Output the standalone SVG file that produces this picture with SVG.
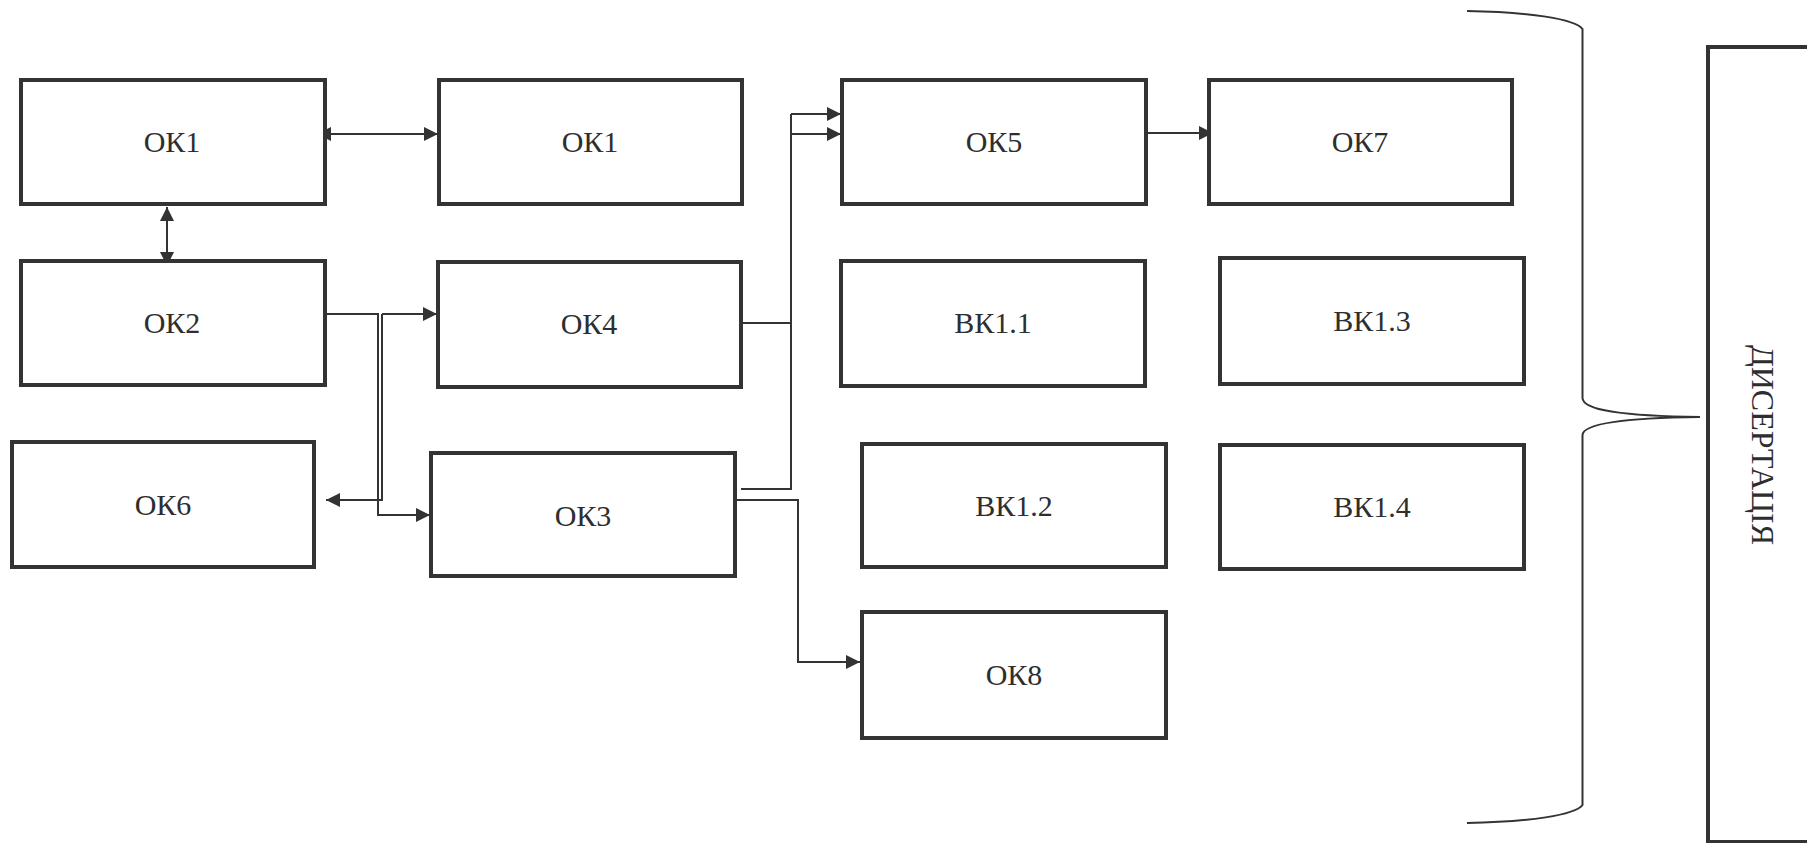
<svg xmlns="http://www.w3.org/2000/svg" width="1807" height="843" viewBox="0 0 1807 843">
<style>
.box{fill:#fff;stroke:#333;stroke-width:4}
.lbl{font-family:'Liberation Serif','DejaVu Serif',serif;font-size:30px;fill:#2e2e2e;text-anchor:middle}
.ln{fill:none;stroke:#333;stroke-width:2}
.arr{marker-end:url(#ah)}
.dbl{marker-start:url(#ah);marker-end:url(#ah)}
</style>
<defs>
<marker id="ah" markerUnits="userSpaceOnUse" markerWidth="14" markerHeight="14" refX="14" refY="7" orient="auto-start-reverse" viewBox="0 0 14 14">
<path d="M0,0 L14,7 L0,14 z" fill="#333"/>
</marker>
</defs>
<rect width="1807" height="843" fill="#fff"/>
<g id="connectors">
<path class="ln dbl" d="M317,134 L438,134"/>
<path class="ln dbl" d="M167,207 L167,266"/>
<path class="ln arr" d="M325,314 L378,314 L378,515 L430,515"/>
<path class="ln arr" d="M382,314 L437,314"/>
<path class="ln arr" d="M382,314 L382,500 L326,500"/>
<path class="ln" d="M741,323 L791,323"/>
<path class="ln" d="M741,489 L791,489 L791,114"/>
<path class="ln arr" d="M791,114 L841,114"/>
<path class="ln arr" d="M791,134 L841,134"/>
<path class="ln arr" d="M735,500 L798,500 L798,662 L860,662"/>
<path class="ln arr" d="M1146,133 L1213,133"/>
</g>
<g font-family="'Liberation Serif','DejaVu Serif',serif">
<g id="ok1a"><rect class="box" x="21" y="80" width="304" height="124"/><text class="lbl" x="172" y="152">ОК1</text></g>
<g id="ok1b"><rect class="box" x="439" y="80" width="303" height="124"/><text class="lbl" x="590" y="152">ОК1</text></g>
<g id="ok2"><rect class="box" x="21" y="261" width="304" height="124"/><text class="lbl" x="172" y="333">ОК2</text></g>
<g id="ok4"><rect class="box" x="438" y="262" width="303" height="125"/><text class="lbl" x="589" y="334">ОК4</text></g>
<g id="ok6"><rect class="box" x="12" y="442" width="302" height="125"/><text class="lbl" x="163" y="515">ОК6</text></g>
<g id="ok3"><rect class="box" x="431" y="453" width="304" height="123"/><text class="lbl" x="583" y="526">ОК3</text></g>
<g id="ok5"><rect class="box" x="842" y="80" width="304" height="124"/><text class="lbl" x="994" y="152">ОК5</text></g>
<g id="ok7"><rect class="box" x="1209" y="80" width="303" height="124"/><text class="lbl" x="1360" y="152">ОК7</text></g>
<g id="bk11"><rect class="box" x="841" y="261" width="304" height="125"/><text class="lbl" x="993" y="333">ВК1.1</text></g>
<g id="bk13"><rect class="box" x="1220" y="258" width="304" height="126"/><text class="lbl" x="1372" y="331">ВК1.3</text></g>
<g id="bk12"><rect class="box" x="862" y="444" width="304" height="123"/><text class="lbl" x="1014" y="516">ВК1.2</text></g>
<g id="bk14"><rect class="box" x="1220" y="445" width="304" height="124"/><text class="lbl" x="1372" y="517">ВК1.4</text></g>
<g id="ok8"><rect class="box" x="862" y="612" width="304" height="126"/><text class="lbl" x="1014" y="685">ОК8</text></g>
<g id="brace"><path class="ln" d="M1467,11 C1530,12 1575,19 1582.5,29 L1582.5,398 C1583,410 1620,416 1700,417 C1620,418 1583,424 1582.5,435 L1582.5,805 C1575,815 1530,822 1467,823"/></g>
<g id="dysertatsiia"><rect class="box" x="1708" y="47" width="200" height="795"/><text class="lbl" style="font-size:32px" transform="translate(1752,445) rotate(90)" x="0" y="0">ДИСЕРТАЦІЯ</text></g>
</g>
</svg>
